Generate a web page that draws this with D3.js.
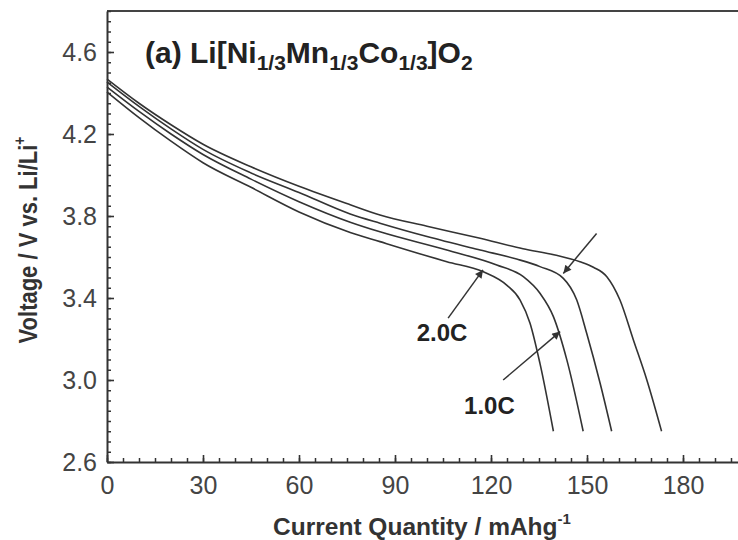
<!DOCTYPE html>
<html>
<head>
<meta charset="utf-8">
<script src="https://cdn.jsdelivr.net/npm/d3@7"></script>
<style>
    body { margin: 0; background: #fff; }
    text { font-family: "Liberation Sans", Arial, sans-serif; }
</style>
</head>
<body>
<div id="chart"></div>
<script>
// discharge curves (capacity in mAh/g, voltage in V)
const rates = ["2.0C", "1.0C", "0.5C", "0.2C"];
const q20 = [0, 10, 20, 30, 45, 60, 76, 85.3, 106.2, 117.6, 124.9, 129.1, 132.2, 135.3, 139.5];
const v20 = [4.405, 4.28, 4.165, 4.06, 3.94, 3.82, 3.72, 3.675, 3.577, 3.528, 3.463, 3.39, 3.277, 3.081, 2.75];
const q10 = [0, 10, 20, 30, 45, 60, 76, 85.3, 106.2, 121.8, 130.1, 135.3, 139.5, 143.7, 148.8];
const v10 = [4.429, 4.31, 4.20, 4.10, 3.98, 3.87, 3.77, 3.723, 3.634, 3.561, 3.504, 3.423, 3.309, 3.098, 2.75];
const q05 = [0, 10, 20, 30, 45, 60, 76, 85.3, 100, 116.6, 128, 135.3, 142.6, 146.8, 149.9, 154.1, 157.7];
const v05 = [4.454, 4.335, 4.225, 4.125, 4.01, 3.915, 3.81, 3.765, 3.70, 3.634, 3.59, 3.553, 3.496, 3.39, 3.228, 2.984, 2.75];
const q02 = [0, 10, 20, 30, 45, 60, 76, 85.3, 100, 116.6, 130, 140, 147.8, 152, 156.2, 160.3, 164.5, 168.7, 173.3];
const v02 = [4.468, 4.35, 4.245, 4.15, 4.04, 3.945, 3.855, 3.805, 3.75, 3.691, 3.64, 3.61, 3.577, 3.55, 3.504, 3.39, 3.195, 3.0, 2.75];

const xTicks = [0, 30, 60, 90, 120, 150, 180];
const yTicks = [2.6, 3.0, 3.4, 3.8, 4.2, 4.6];

// arrows (data coords) and their labels
const arrowLabels = ["2.0C", "1.0C", ""];
const arrowFromQ = [106.6, 123.8, 153];
const arrowFromV = [3.302, 3.0, 3.715];
const arrowToQ = [117.5, 141.6, 142.6];
const arrowToV = [3.537, 3.236, 3.52];
const labelQ = [104.7, 119.5, null];
const labelV = [3.19, 2.835, null];

const width = 738, height = 540;
const plotLeft = 107, plotBottom = 462, plotTop = 11;

const svg = d3.select("#chart").append("svg")
    .attr("width", width)
    .attr("height", height);

const x = d3.scaleLinear().domain([0, 200]).range([plotLeft, plotLeft + 640]);
const y = d3.scaleLinear().domain([2.6, 4.8]).range([plotBottom, plotTop]);

const axisColor = "#333";

// top frame line
svg.append("line")
    .attr("x1", plotLeft).attr("x2", width)
    .attr("y1", plotTop).attr("y2", plotTop)
    .attr("stroke", "#444").attr("stroke-width", 2);

// minor ticks, drawn inward
const xAxisMinor = d3.axisBottom(x).tickValues(d3.range(0, 201, 5)).tickSize(-4).tickFormat("");
const yAxisMinor = d3.axisLeft(y).tickValues(d3.range(2.6, 4.80001, 0.05)).tickSize(-4).tickFormat("");
svg.append("g").attr("transform", `translate(0,${plotBottom})`).call(xAxisMinor)
    .call(g => g.select(".domain").remove())
    .selectAll("line").attr("stroke", axisColor).attr("stroke-width", 1.5);
svg.append("g").attr("transform", `translate(${plotLeft},0)`).call(yAxisMinor)
    .call(g => g.select(".domain").remove())
    .selectAll("line").attr("stroke", axisColor).attr("stroke-width", 1.5);

// major ticks + labels
const xAxis = d3.axisBottom(x).tickValues(xTicks).tickSizeInner(-7).tickSizeOuter(0).tickPadding(14);
const yAxis = d3.axisLeft(y).tickValues(yTicks).tickSizeInner(-7).tickSizeOuter(0).tickPadding(10)
    .tickFormat(d3.format(".1f"));

const gx = svg.append("g").attr("transform", `translate(0,${plotBottom})`).call(xAxis);
gx.select(".domain").attr("stroke", axisColor).attr("stroke-width", 2);
gx.selectAll("line").attr("stroke", axisColor).attr("stroke-width", 1.6);
gx.selectAll("text").attr("font-size", 25).attr("fill", "#444")
    .attr("font-family", "Liberation Sans, Arial, sans-serif");

const gy = svg.append("g").attr("transform", `translate(${plotLeft},0)`).call(yAxis);
gy.select(".domain").attr("stroke", axisColor).attr("stroke-width", 2);
gy.selectAll("line").attr("stroke", axisColor).attr("stroke-width", 1.6);
gy.selectAll("text").attr("font-size", 25).attr("fill", "#444")
    .attr("font-family", "Liberation Sans, Arial, sans-serif");

// curves
const series = [
    { rate: rates[0], q: q20, v: v20 },
    { rate: rates[1], q: q10, v: v10 },
    { rate: rates[2], q: q05, v: v05 },
    { rate: rates[3], q: q02, v: v02 }
];

const line = d3.line()
    .x(d => x(d[0]))
    .y(d => y(d[1]))
    .curve(d3.curveMonotoneX);

svg.append("g")
    .selectAll("path")
    .data(series)
    .enter().append("path")
    .attr("d", s => line(s.q.map((q, i) => [q, s.v[i]])))
    .attr("fill", "none")
    .attr("stroke", "#333")
    .attr("stroke-width", 1.6);

// arrows
svg.append("defs").append("marker")
    .attr("id", "head")
    .attr("viewBox", "0 0 10 10")
    .attr("refX", 10).attr("refY", 5)
    .attr("markerWidth", 11).attr("markerHeight", 8)
    .attr("markerUnits", "userSpaceOnUse")
    .attr("orient", "auto")
    .append("path")
    .attr("d", "M0,0L10,5L0,10z")
    .attr("fill", "#333");

const arrows = arrowLabels.map((lab, i) => ({
    lab, x1: arrowFromQ[i], y1: arrowFromV[i], x2: arrowToQ[i], y2: arrowToV[i],
    lx: labelQ[i], ly: labelV[i]
}));

svg.append("g").selectAll("line")
    .data(arrows)
    .enter().append("line")
    .attr("x1", d => x(d.x1)).attr("y1", d => y(d.y1))
    .attr("x2", d => x(d.x2)).attr("y2", d => y(d.y2))
    .attr("stroke", "#333").attr("stroke-width", 1.5)
    .attr("marker-end", "url(#head)");

svg.append("g").selectAll("text")
    .data(arrows.filter(d => d.lab))
    .enter().append("text")
    .attr("x", d => x(d.lx)).attr("y", d => y(d.ly))
    .attr("text-anchor", "middle")
    .attr("font-size", 24).attr("font-weight", "bold").attr("fill", "#222")
    .text(d => d.lab);

// title
const title = svg.append("text")
    .attr("x", 145).attr("y", 63)
    .attr("font-size", 30).attr("font-weight", "bold").attr("fill", "#222");
const parts = [["(a) Li[Ni", 0], ["1/3", 1], ["Mn", 0], ["1/3", 1], ["Co", 0], ["1/3", 1], ["]O", 0], ["2", 1]];
let prevSub = 0;
parts.forEach(([t, sub]) => {
    title.append("tspan")
        .attr("dy", sub - prevSub === 1 ? 7 : sub - prevSub === -1 ? -7 : 0)
        .attr("font-size", sub ? 21 : 30)
        .text(t);
    prevSub = sub;
});

// x axis title
const xt = svg.append("text")
    .attr("x", 422).attr("y", 535)
    .attr("text-anchor", "middle")
    .attr("font-size", 24.5).attr("font-weight", "bold").attr("fill", "#333");
xt.append("tspan").text("Current Quantity / mAhg");
xt.append("tspan").attr("dy", -11).attr("font-size", 15).text("-1");

// y axis title (glyphs a little wider than tall, as in the source figure)
const yt = svg.append("text")
    .attr("transform", "translate(37,240) scale(1.2,1) rotate(-90)")
    .attr("text-anchor", "middle")
    .attr("font-size", 22).attr("font-weight", "bold").attr("fill", "#333");
yt.append("tspan").text("Voltage / V vs. Li/Li");
yt.append("tspan").attr("dy", -10).attr("font-size", 14).text("+");
</script>
</body>
</html>
